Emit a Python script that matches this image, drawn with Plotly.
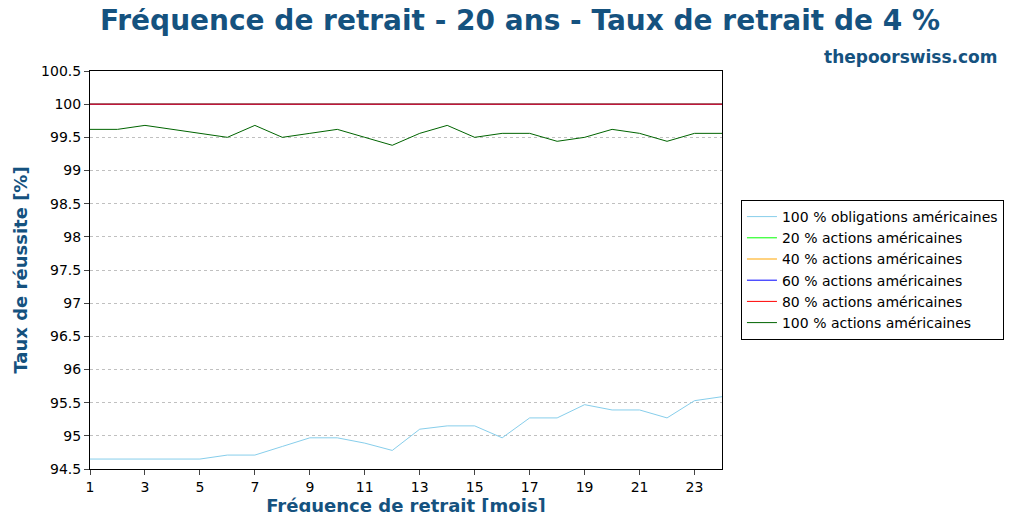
import plotly.graph_objects as go

months = list(range(1, 25))

bonds_100 = [94.65, 94.65, 94.65, 94.65, 94.65, 94.71, 94.71, 94.84, 94.97, 94.97, 94.89, 94.78,
             95.10, 95.15, 95.15, 94.97, 95.27, 95.27, 95.47, 95.39, 95.39, 95.27, 95.53, 95.59]
stocks_20 = [100] * 24
stocks_40 = [100] * 24
stocks_60 = [100] * 24
stocks_80 = [100] * 24
stocks_100 = [99.62, 99.62, 99.68, 99.62, 99.56, 99.50, 99.68, 99.50, 99.56, 99.62, 99.50, 99.38,
              99.56, 99.68, 99.50, 99.56, 99.56, 99.44, 99.50, 99.62, 99.56, 99.44, 99.56, 99.56]

series = [
    ("100 % obligations américaines", bonds_100, "#87ceeb"),
    ("20 % actions américaines", stocks_20, "#00ff00"),
    ("40 % actions américaines", stocks_40, "#ffa500"),
    ("60 % actions américaines", stocks_60, "#0000ff"),
    ("80 % actions américaines", stocks_80, "#ff0000"),
    ("100 % actions américaines", stocks_100, "#006400"),
]

blue = "#15527f"
fig = go.Figure()
for name, vals, col in series:
    fig.add_trace(go.Scatter(x=months, y=vals, mode="lines", name=name,
                             line=dict(color=col, width=1)))

fig.update_layout(
    width=1024, height=512,
    paper_bgcolor="white", plot_bgcolor="white",
    font=dict(family="DejaVu Sans", size=14, color="black"),
    margin=dict(l=82, r=310, t=63, b=51, autoexpand=False),
    title=dict(text="<b>Fréquence de retrait - 20 ans - Taux de retrait de 4 %</b>",
               x=0.5, xanchor="center", y=0.995, yanchor="top",
               font=dict(size=28, color=blue)),
    legend=dict(x=1.03, y=0.5, yanchor="middle", xanchor="left",
                bordercolor="black", borderwidth=1, font=dict(size=14),
                tracegroupgap=0),
    showlegend=True,
)
fig.add_annotation(text="<b>thepoorswiss.com</b>", xref="paper", yref="paper",
                   x=1.0, y=1.0, xanchor="left", yanchor="bottom", xshift=100, yshift=2,
                   showarrow=False, font=dict(size=17, color=blue))
fig.update_xaxes(range=[1, 24], tickvals=list(range(1, 24, 2)), ticks="outside",
                 showline=True, linecolor="black", mirror=True, showgrid=False,
                 automargin=False,
                 title=dict(text="<b>Fréquence de retrait [mois]</b>", standoff=0,
                            font=dict(size=18, color=blue)))
fig.update_yaxes(range=[94.5, 100.5], dtick=0.5, ticks="outside",
                 showline=True, linecolor="black", mirror=True, automargin=False,
                 showgrid=True, gridcolor="#c0c0c0", griddash="dot", zeroline=False,
                 title=dict(text="<b>Taux de réussite [%]</b>", standoff=8,
                            font=dict(size=18, color=blue)))

fig.write_html("out.html")
